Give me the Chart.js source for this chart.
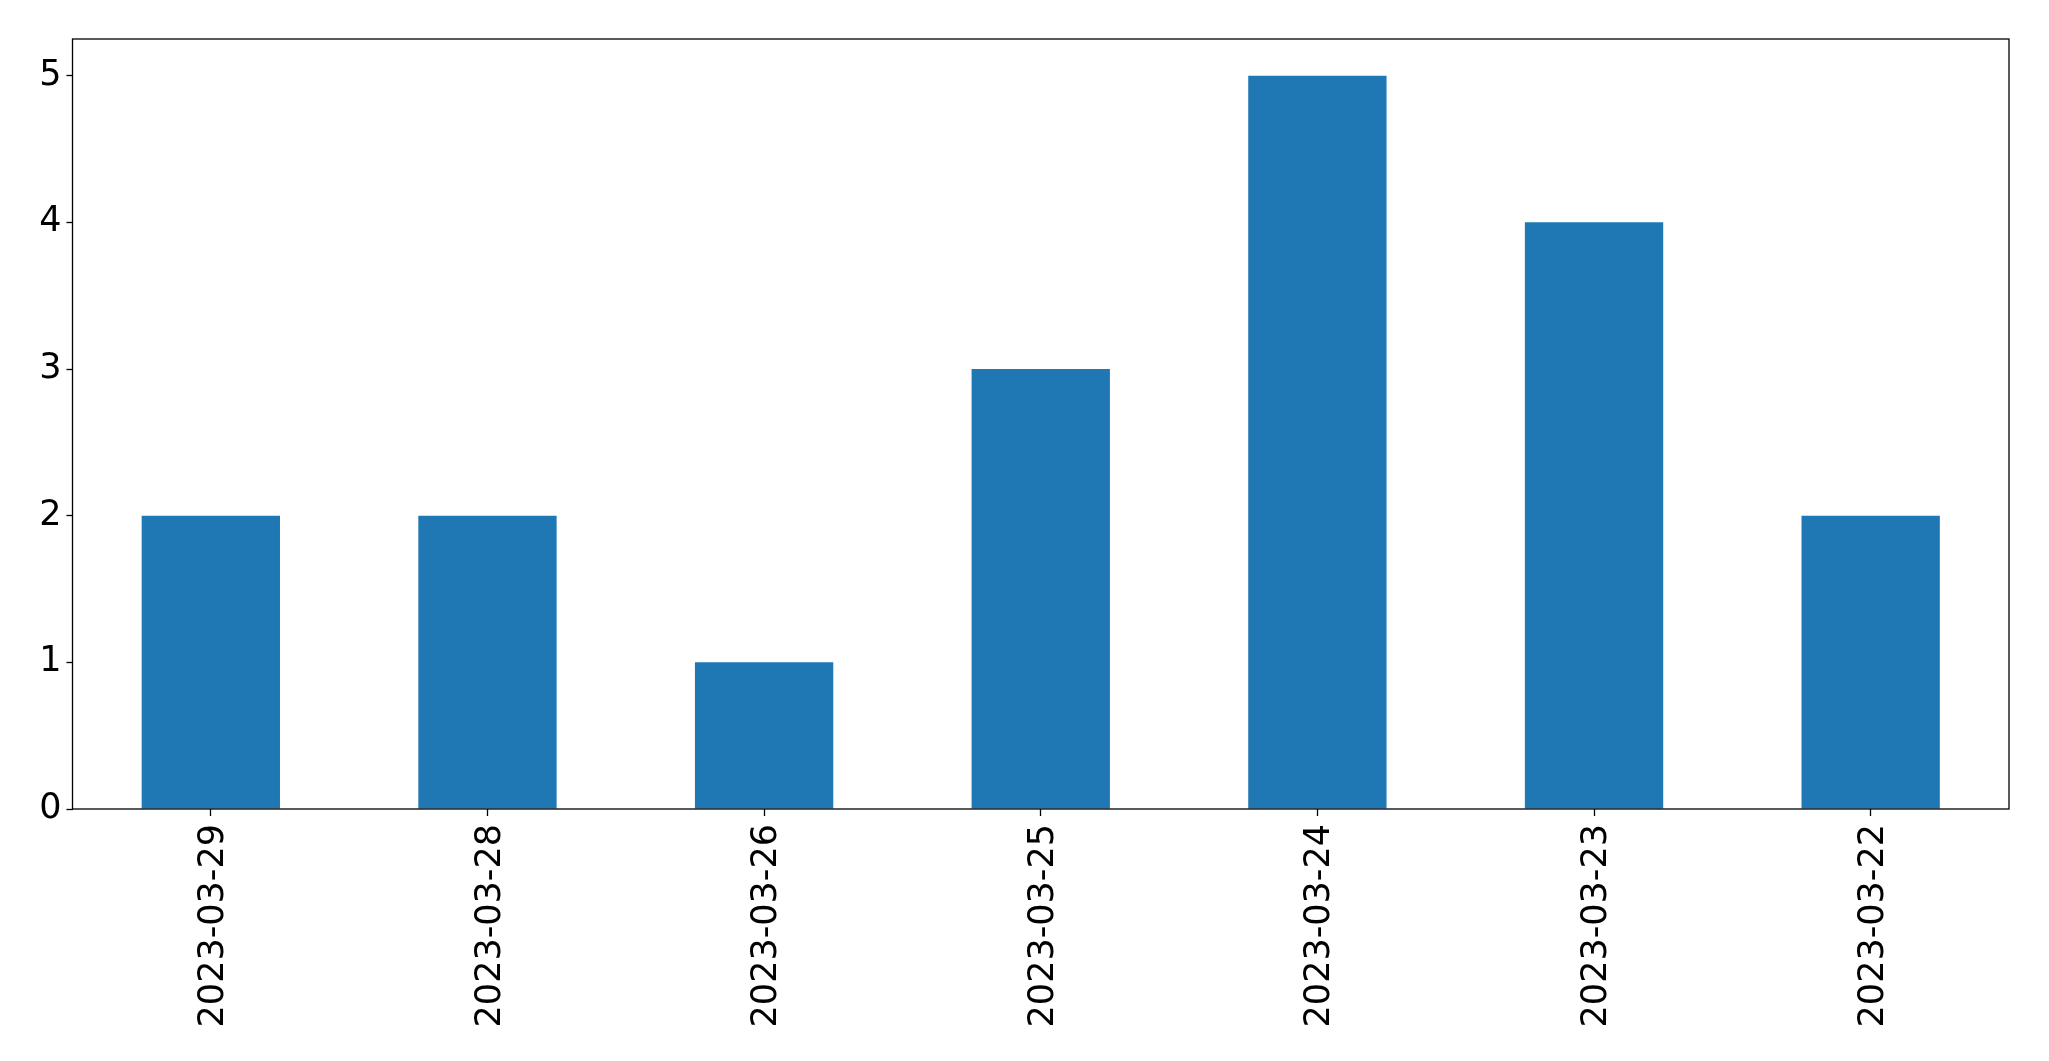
<!DOCTYPE html>
<html>
<head>
<meta charset="utf-8">
<script src="https://cdn.jsdelivr.net/npm/chart.js@4"></script>
<style>
  html, body { margin: 0; padding: 0; background: #fff; }
  #wrap { width: 2049px; height: 1061px; }
</style>
</head>
<body>
<div id="wrap"><canvas id="chart"></canvas></div>
<script>
// dados
const datas = ['2023-03-29', '2023-03-28', '2023-03-26', '2023-03-25', '2023-03-24', '2023-03-23', '2023-03-22'];
const contagens = [2, 2, 1, 3, 5, 4, 2];
const ticksY = [0, 1, 2, 3, 4, 5];

const fonte = { family: 'DejaVu Sans', size: 35 };

// moldura preta em volta da área do gráfico
const moldura = {
    id: 'moldura',
    afterDraw(chart) {
        const a = chart.chartArea;
        const ctx = chart.ctx;
        ctx.save();
        ctx.strokeStyle = '#000';
        ctx.lineWidth = 1.3;
        ctx.strokeRect(a.left, a.top, a.right - a.left, a.bottom - a.top);
        ctx.restore();
    }
};

new Chart(document.getElementById('chart'), {
    type: 'bar',
    data: {
        labels: datas,
        datasets: [{
            data: contagens,
            backgroundColor: '#1f77b4',
            borderWidth: 0,
            categoryPercentage: 1.0,
            barPercentage: 0.5
        }]
    },
    options: {
        responsive: true,
        maintainAspectRatio: false,
        animation: false,
        layout: { padding: { top: 39, right: 40, left: 0, bottom: 0 } },
        plugins: { legend: { display: false }, tooltip: { enabled: false } },
        scales: {
            x: {
                offset: true,
                grid: { display: true, drawOnChartArea: false, color: '#000', tickLength: 7, tickWidth: 1.3, offset: false },
                border: { display: false },
                ticks: { color: '#000', font: fonte, minRotation: 90, maxRotation: 90, padding: 8, labelOffset: 3, autoSkip: false },
                afterFit(scale) { scale.height = 252; }
            },
            y: {
                min: 0,
                max: 5.25,
                afterBuildTicks(scale) { scale.ticks = ticksY.map(v => ({ value: v })); },
                grid: { display: true, drawOnChartArea: false, color: '#000', tickLength: 6, tickWidth: 1.3 },
                border: { display: false },
                ticks: { color: '#000', font: fonte, padding: 5 },
                afterFit(scale) { scale.width = 72.5; }
            }
        }
    },
    plugins: [moldura]
});
</script>
</body>
</html>
